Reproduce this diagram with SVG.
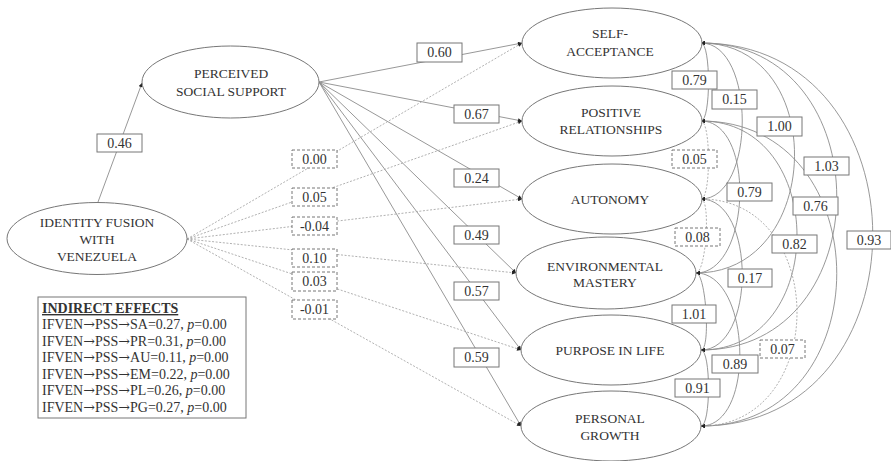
<svg xmlns="http://www.w3.org/2000/svg" width="891" height="461" viewBox="0 0 891 461">
<style>
  .bg{fill:#fff}
  .node ellipse{fill:#fff;stroke:#777;stroke-width:1}
  .node text{font-family:"Liberation Serif","Times New Roman",serif;font-size:13.5px;fill:#333;text-anchor:middle}
  .path{fill:none;stroke:#8c8c8c;stroke-width:0.9}
  .ns{fill:none;stroke:#a8a8a8;stroke-width:0.9;stroke-dasharray:2 1.6}
  .cov{fill:none;stroke:#8c8c8c;stroke-width:0.9}
  .covns{fill:none;stroke:#a8a8a8;stroke-width:0.9;stroke-dasharray:2 1.6}
  .lbl rect{fill:#fff;stroke:#777;stroke-width:1}
  .lbl.d rect{stroke-dasharray:3 2}
  .lbl text{font-family:"Liberation Serif","Times New Roman",serif;font-size:14px;fill:#333;text-anchor:middle}
  .ind rect{fill:#fff;stroke:#777;stroke-width:1}
  .ind text{font-family:"Liberation Serif","Times New Roman",serif;font-size:14px;fill:#333}
  .ar{font-family:"DejaVu Serif","Liberation Serif",serif;font-size:14px}
</style>
<defs>
  <marker id="ah" viewBox="0 0 6 6" refX="6" refY="3" markerWidth="5" markerHeight="4" markerUnits="userSpaceOnUse" orient="auto-start-reverse">
    <path d="M0,0 L6,3 L0,6 z" fill="#222"/>
  </marker>
</defs>
<rect class="bg" x="0" y="0" width="891" height="461"/>

<g id="connectors">
  <!-- IFVEN -> PSS -->
  <path class="path" d="M98,202 L142,83" marker-end="url(#ah)"/>
  <!-- PSS -> outcomes -->
  <path class="path" d="M319,82 L522,43" marker-end="url(#ah)"/>
  <path class="path" d="M319,82 L522,121" marker-end="url(#ah)"/>
  <path class="path" d="M319,82 L522,199" marker-end="url(#ah)"/>
  <path class="path" d="M319,82 L516,273" marker-end="url(#ah)"/>
  <path class="path" d="M319,82 L521,350" marker-end="url(#ah)"/>
  <path class="path" d="M319,82 L521,426" marker-end="url(#ah)"/>
  <!-- IFVEN -> outcomes (non-significant) -->
  <path class="ns" d="M187,239 L522,43" marker-end="url(#ah)"/>
  <path class="ns" d="M187,239 L522,121" marker-end="url(#ah)"/>
  <path class="ns" d="M187,239 L522,199" marker-end="url(#ah)"/>
  <path class="ns" d="M187,239 L516,273" marker-end="url(#ah)"/>
  <path class="ns" d="M187,239 L521,350" marker-end="url(#ah)"/>
  <path class="ns" d="M187,239 L521,426" marker-end="url(#ah)"/>
  <!-- covariances -->
  <path class="cov" d="M701,43 C711,43 711,121 701,121" marker-start="url(#ah)" marker-end="url(#ah)"/>
  <path class="cov" d="M701,43 C756,43 756,199 701,199" marker-start="url(#ah)" marker-end="url(#ah)"/>
  <path class="cov" d="M701,43 C829,43 824,273 696,273" marker-start="url(#ah)" marker-end="url(#ah)"/>
  <path class="cov" d="M701,43 C882,43 882,350 701,350" marker-start="url(#ah)" marker-end="url(#ah)"/>
  <path class="cov" d="M701,43 C930,43 930,426 701,426" marker-start="url(#ah)" marker-end="url(#ah)"/>
  <path class="covns" d="M701,121 C711,121 711,199 701,199" marker-start="url(#ah)" marker-end="url(#ah)"/>
  <path class="cov" d="M701,121 C756,121 751,273 696,273" marker-start="url(#ah)" marker-end="url(#ah)"/>
  <path class="cov" d="M701,121 C829,121 829,350 701,350" marker-start="url(#ah)" marker-end="url(#ah)"/>
  <path class="cov" d="M701,121 C882,121 882,426 701,426" marker-start="url(#ah)" marker-end="url(#ah)"/>
  <path class="covns" d="M701,199 C711,199 706,273 696,273" marker-start="url(#ah)" marker-end="url(#ah)"/>
  <path class="cov" d="M701,199 C756,199 756,350 701,350" marker-start="url(#ah)" marker-end="url(#ah)"/>
  <path class="covns" d="M701,199 C829,199 829,426 701,426" marker-start="url(#ah)" marker-end="url(#ah)"/>
  <path class="cov" d="M696,273 C706,273 711,350 701,350" marker-start="url(#ah)" marker-end="url(#ah)"/>
  <path class="cov" d="M696,273 C751,273 756,426 701,426" marker-start="url(#ah)" marker-end="url(#ah)"/>
  <path class="cov" d="M701,350 C711,350 711,426 701,426" marker-start="url(#ah)" marker-end="url(#ah)"/>
</g>

<g id="node-pss" class="node">
  <ellipse cx="230.5" cy="82" rx="88.5" ry="36"/>
  <text x="231" y="78">PERCEIVED</text>
  <text x="231" y="96">SOCIAL SUPPORT</text>
</g>
<g id="node-ifven" class="node">
  <ellipse cx="97" cy="238.5" rx="90" ry="36"/>
  <text x="97" y="227">IDENTITY FUSION</text>
  <text x="97" y="244">WITH</text>
  <text x="97" y="261">VENEZUELA</text>
</g>
<g id="node-sa" class="node">
  <ellipse cx="612" cy="43" rx="90" ry="35"/>
  <text x="610" y="38">SELF-</text>
  <text x="610" y="56">ACCEPTANCE</text>
</g>
<g id="node-pr" class="node">
  <ellipse cx="612" cy="121" rx="90" ry="35"/>
  <text x="611" y="117">POSITIVE</text>
  <text x="611" y="134">RELATIONSHIPS</text>
</g>
<g id="node-au" class="node">
  <ellipse cx="612" cy="199" rx="90" ry="35"/>
  <text x="610" y="204">AUTONOMY</text>
</g>
<g id="node-em" class="node">
  <ellipse cx="606" cy="273" rx="90" ry="36"/>
  <text x="605" y="271">ENVIRONMENTAL</text>
  <text x="605" y="287">MASTERY</text>
</g>
<g id="node-pl" class="node">
  <ellipse cx="611" cy="350" rx="90" ry="35"/>
  <text x="610" y="355">PURPOSE IN LIFE</text>
</g>
<g id="node-pg" class="node">
  <ellipse cx="611" cy="426" rx="90" ry="35"/>
  <text x="610" y="423">PERSONAL</text>
  <text x="610" y="440">GROWTH</text>
</g>

<g id="labels">
  <g class="lbl"><rect x="97" y="134" width="45" height="18"/><text x="119.5" y="148">0.46</text></g>
  <g class="lbl"><rect x="417" y="43" width="45" height="19"/><text x="439.5" y="57">0.60</text></g>
  <g class="lbl"><rect x="454" y="105" width="45" height="18"/><text x="476.5" y="119">0.67</text></g>
  <g class="lbl"><rect x="454" y="169" width="45" height="18"/><text x="476.5" y="183">0.24</text></g>
  <g class="lbl"><rect x="454" y="226" width="45" height="18"/><text x="476.5" y="240">0.49</text></g>
  <g class="lbl"><rect x="454" y="282" width="45" height="18"/><text x="476.5" y="296">0.57</text></g>
  <g class="lbl"><rect x="454" y="348" width="45" height="19"/><text x="476.5" y="362">0.59</text></g>
  <g class="lbl d"><rect x="292" y="150" width="45" height="18"/><text x="314.5" y="164">0.00</text></g>
  <g class="lbl d"><rect x="292" y="188" width="45" height="18"/><text x="314.5" y="202">0.05</text></g>
  <g class="lbl d"><rect x="292" y="217" width="45" height="18"/><text x="314.5" y="231">-0.04</text></g>
  <g class="lbl d"><rect x="292" y="249" width="45" height="18"/><text x="314.5" y="263">0.10</text></g>
  <g class="lbl d"><rect x="292" y="272" width="45" height="19"/><text x="314.5" y="286">0.03</text></g>
  <g class="lbl d"><rect x="292" y="300" width="45" height="19"/><text x="314.5" y="314">-0.01</text></g>
  <g class="lbl"><rect x="672" y="71" width="45" height="18"/><text x="694.5" y="85">0.79</text></g>
  <g class="lbl"><rect x="712" y="90" width="45" height="19"/><text x="734.5" y="104">0.15</text></g>
  <g class="lbl"><rect x="757" y="117" width="45" height="19"/><text x="779.5" y="131">1.00</text></g>
  <g class="lbl"><rect x="804" y="157" width="45" height="18"/><text x="826.5" y="171">1.03</text></g>
  <g class="lbl d"><rect x="672" y="150" width="45" height="18"/><text x="694.5" y="164">0.05</text></g>
  <g class="lbl"><rect x="727" y="183" width="45" height="18"/><text x="749.5" y="197">0.79</text></g>
  <g class="lbl"><rect x="793" y="197" width="45" height="18"/><text x="815.5" y="211">0.76</text></g>
  <g class="lbl d"><rect x="675" y="228" width="45" height="18"/><text x="697.5" y="242">0.08</text></g>
  <g class="lbl"><rect x="772" y="235" width="45" height="18"/><text x="794.5" y="249">0.82</text></g>
  <g class="lbl"><rect x="847" y="231" width="44" height="18"/><text x="869" y="245">0.93</text></g>
  <g class="lbl"><rect x="728" y="269" width="44" height="18"/><text x="750" y="283">0.17</text></g>
  <g class="lbl"><rect x="672" y="305" width="44" height="18"/><text x="694" y="319">1.01</text></g>
  <g class="lbl d"><rect x="760" y="340" width="45" height="18"/><text x="782.5" y="354">0.07</text></g>
  <g class="lbl"><rect x="712" y="355" width="46" height="18"/><text x="735" y="369">0.89</text></g>
  <g class="lbl"><rect x="675" y="379" width="45" height="18"/><text x="697.5" y="393">0.91</text></g>
</g>

<g id="indirect-effects" class="ind">
  <rect x="38" y="297" width="208" height="121"/>
  <text x="42" y="313" font-weight="bold" text-decoration="underline">INDIRECT EFFECTS</text>
  <text x="42" y="329">IFVEN<tspan class="ar">→</tspan>PSS<tspan class="ar">→</tspan>SA=0.27, <tspan font-style="italic">p</tspan>=0.00</text>
  <text x="42" y="346">IFVEN<tspan class="ar">→</tspan>PSS<tspan class="ar">→</tspan>PR=0.31, <tspan font-style="italic">p</tspan>=0.00</text>
  <text x="42" y="362">IFVEN<tspan class="ar">→</tspan>PSS<tspan class="ar">→</tspan>AU=0.11, <tspan font-style="italic">p</tspan>=0.00</text>
  <text x="42" y="379">IFVEN<tspan class="ar">→</tspan>PSS<tspan class="ar">→</tspan>EM=0.22, <tspan font-style="italic">p</tspan>=0.00</text>
  <text x="42" y="395">IFVEN<tspan class="ar">→</tspan>PSS<tspan class="ar">→</tspan>PL=0.26, <tspan font-style="italic">p</tspan>=0.00</text>
  <text x="42" y="412">IFVEN<tspan class="ar">→</tspan>PSS<tspan class="ar">→</tspan>PG=0.27, <tspan font-style="italic">p</tspan>=0.00</text>
</g>
</svg>
